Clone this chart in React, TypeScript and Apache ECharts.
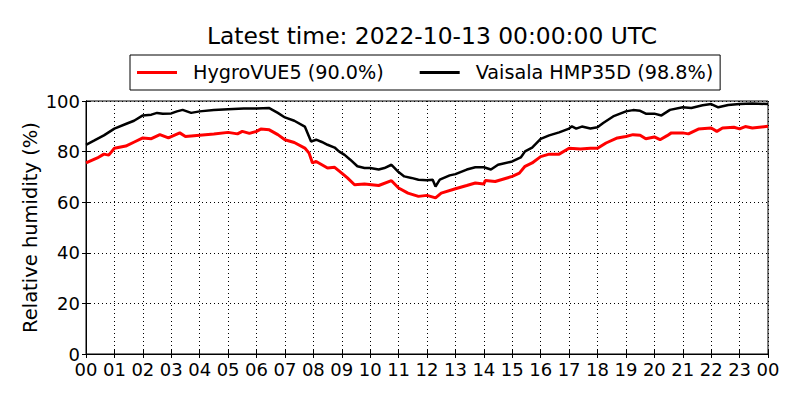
import React, { useEffect, useRef } from "react";
import * as echarts from "echarts";

const titleText = "Latest time: 2022-10-13 00:00:00 UTC";
const hygroName = "HygroVUE5 (90.0%)";
const vaisalaName = "Vaisala HMP35D (98.8%)";
const yAxisName = "Relative humidity (%)";

// hours since 00 UTC and relative humidity (%)
const vaisalaHours = [
  0, 0.28, 0.63, 1.0, 1.4, 1.69, 2.0, 2.3, 2.5, 2.7, 3.0, 3.2, 3.4, 3.7, 4.0, 4.5, 5.0, 5.55, 6.0, 6.45,
  6.75, 7.0, 7.33, 7.7, 7.92, 8.1, 8.3, 8.5, 8.75, 8.9, 9.1, 9.3, 9.55, 9.8, 10.0, 10.3, 10.5, 10.75, 11.0,
  11.2, 11.45, 11.7, 12.0, 12.2, 12.3, 12.45, 12.8, 13.0, 13.4, 13.7, 14.0, 14.25, 14.5, 15.0, 15.3, 15.45,
  15.7, 16.0, 16.3, 16.65, 17.0, 17.1, 17.25, 17.45, 17.75, 18.0, 18.2, 18.55, 19.0, 19.25, 19.5, 19.7,
  20.0, 20.25, 20.55, 21.0, 21.3, 21.7, 22.0, 22.25, 22.6, 23.0, 23.45, 24.0,
];
const vaisalaValues = [
  82.7, 84.3, 86.4, 89.1, 90.9, 92.2, 94.3, 94.6, 95.3, 95.0, 95.1, 95.9, 96.5, 95.3, 95.9, 96.4, 96.7, 97.0, 97.0, 97.2,
  95.3, 93.5, 92.2, 89.9, 84.0, 84.7, 83.8, 82.7, 81.6, 80.1, 78.7, 76.8, 74.2, 73.5, 73.5, 72.9, 73.5, 74.8, 71.9,
  70.2, 69.6, 68.9, 68.7, 68.9, 66.2, 68.9, 70.6, 71.1, 72.9, 73.8, 73.8, 72.9, 74.8, 76.1, 77.7, 80.1,
  81.6, 85.0, 86.4, 87.6, 89.1, 90.0, 89.1, 89.9, 89.1, 89.6, 91.3, 93.9, 95.9, 96.4, 96.1, 95.0,
  95.0, 94.3, 96.5, 97.5, 97.2, 98.3, 98.8, 97.5, 98.4, 98.8, 99.0, 98.8,
];

const hygroHours = [
  0, 0.4, 0.63, 0.8, 1.0, 1.4, 1.7, 2.0, 2.3, 2.6, 2.9, 3.3, 3.5, 4.0, 4.5, 5.0, 5.33, 5.5, 5.75, 6.0, 6.15,
  6.45, 6.75, 7.0, 7.33, 7.7, 7.85, 7.97, 8.1, 8.3, 8.5, 8.75, 9.0, 9.2, 9.45, 9.8, 10.3, 10.75, 11.0, 11.33,
  11.7, 12.0, 12.3, 12.5, 13.0, 13.4, 13.7, 14.0, 14.05, 14.4, 15.0, 15.25, 15.45, 15.7, 16.0, 16.3, 16.65,
  17.0, 17.4, 17.75, 18.0, 18.3, 18.7, 19.0, 19.25, 19.5, 19.7, 20.0, 20.2, 20.45, 20.6, 21.0, 21.2, 21.55,
  22.0, 22.2, 22.4, 22.8, 23.0, 23.2, 23.45, 24.0,
];
const hygroValues = [
  75.5, 77.5, 79.0, 78.6, 81.3, 82.2, 83.8, 85.4, 85.1, 86.7, 85.4, 87.4, 86.0, 86.5, 87.0, 87.6, 87.0, 88.0, 87.2, 88.0, 88.9,
  88.6, 86.7, 84.7, 83.6, 81.4, 79.4, 75.5, 76.1, 74.8, 73.5, 73.8, 71.5, 69.6, 66.9, 67.2, 66.6, 68.5, 65.6, 63.6,
  62.3, 62.7, 61.7, 63.6, 65.3, 66.6, 67.6, 67.2, 68.6, 68.2, 70.2, 71.5, 74.2, 75.5, 78.0, 79.0, 79.0,
  81.3, 81.0, 81.3, 81.3, 83.4, 85.4, 86.0, 86.7, 86.5, 85.1, 85.8, 84.7, 86.3, 87.4, 87.4, 87.0, 88.9,
  89.3, 88.0, 89.3, 89.6, 89.0, 89.9, 89.3, 90.0,
];

const FONT = "DejaVu Sans";

export default function App() {
  const ref = useRef<HTMLDivElement>(null);
  useEffect(() => {
    document.body.style.margin = "0";
    const chart = echarts.init(ref.current!, null, { renderer: "svg" });
    const hourLabel = (v: number) => String(Math.round(v) % 24).padStart(2, "0");
    const dotted = { color: "#000", width: 1, type: [1, 3] as any };
    chart.setOption({
      animation: false,
      backgroundColor: "#fff",
      textStyle: { fontFamily: FONT },
      title: {
        text: titleText,
        left: 427,
        top: 19,
        textAlign: "center",
        textStyle: { fontFamily: FONT, fontSize: 23.4, lineHeight: 24, fontWeight: "normal", color: "#000" },
      },
      legend: {
        left: 130,
        top: 55,
        orient: "horizontal",
        borderColor: "#000",
        borderWidth: 1,
        borderRadius: 0,
        padding: [8, 7, 8, 7],
        itemGap: 36,
        itemWidth: 40,
        itemHeight: 3,
        icon: "rect",
        textStyle: { fontFamily: FONT, fontSize: 19.2, lineHeight: 19, color: "#000", padding: [0, 0, 0, 11] },
        data: [hygroName, vaisalaName],
      },
      grid: {
        left: 86,
        right: 32,
        top: 101,
        bottom: 46,
        show: true,
        borderColor: "#000",
        borderWidth: 1,
        backgroundColor: "transparent",
      },
      xAxis: [
        {
          type: "value",
          min: 0,
          max: 24,
          interval: 1,
          axisLine: { show: true, lineStyle: { color: "#000", width: 1 } },
          axisTick: { show: true, inside: true, length: 4, lineStyle: { color: "#000" } },
          axisLabel: { formatter: hourLabel, fontFamily: FONT, fontSize: 18, lineHeight: 14, color: "#000", margin: 8 },
          splitLine: { show: true, lineStyle: dotted },
        },
        {
          type: "value",
          position: "top",
          min: 0,
          max: 24,
          interval: 1,
          axisLine: { show: true, lineStyle: { color: "#000", width: 1 } },
          axisTick: { show: true, inside: true, length: 4, lineStyle: { color: "#000" } },
          axisLabel: { show: false },
          splitLine: { show: false },
        },
      ],
      yAxis: [
        {
          type: "value",
          min: 0,
          max: 100,
          interval: 20,
          name: yAxisName,
          nameLocation: "middle",
          nameGap: 46,
          nameMoveOverlap: false,
          nameTextStyle: { fontFamily: FONT, fontSize: 19.5, color: "#000" },
          axisLine: { show: true, lineStyle: { color: "#000", width: 1 } },
          axisTick: { show: true, inside: true, length: 4, lineStyle: { color: "#000" } },
          axisLabel: { fontFamily: FONT, fontSize: 18, lineHeight: 14, color: "#000", margin: 6 },
          splitLine: { show: true, lineStyle: dotted },
        },
        {
          type: "value",
          position: "right",
          min: 0,
          max: 100,
          interval: 20,
          axisLine: { show: true, lineStyle: { color: "#000", width: 1 } },
          axisTick: { show: true, inside: true, length: 4, lineStyle: { color: "#000" } },
          axisLabel: { show: false },
          splitLine: { show: false },
        },
      ],
      series: [
        {
          name: hygroName,
          type: "line",
          showSymbol: false,
          color: "#ff0000",
          lineStyle: { color: "#ff0000", width: 3 },
          data: hygroHours.map((h, i) => [h, hygroValues[i]]),
        },
        {
          name: vaisalaName,
          type: "line",
          showSymbol: false,
          color: "#000000",
          lineStyle: { color: "#000000", width: 2.5 },
          data: vaisalaHours.map((h, i) => [h, vaisalaValues[i]]),
        },
      ],
    });
    return () => chart.dispose();
  }, []);
  return <div ref={ref} style={{ width: 800, height: 400 }} />;
}
